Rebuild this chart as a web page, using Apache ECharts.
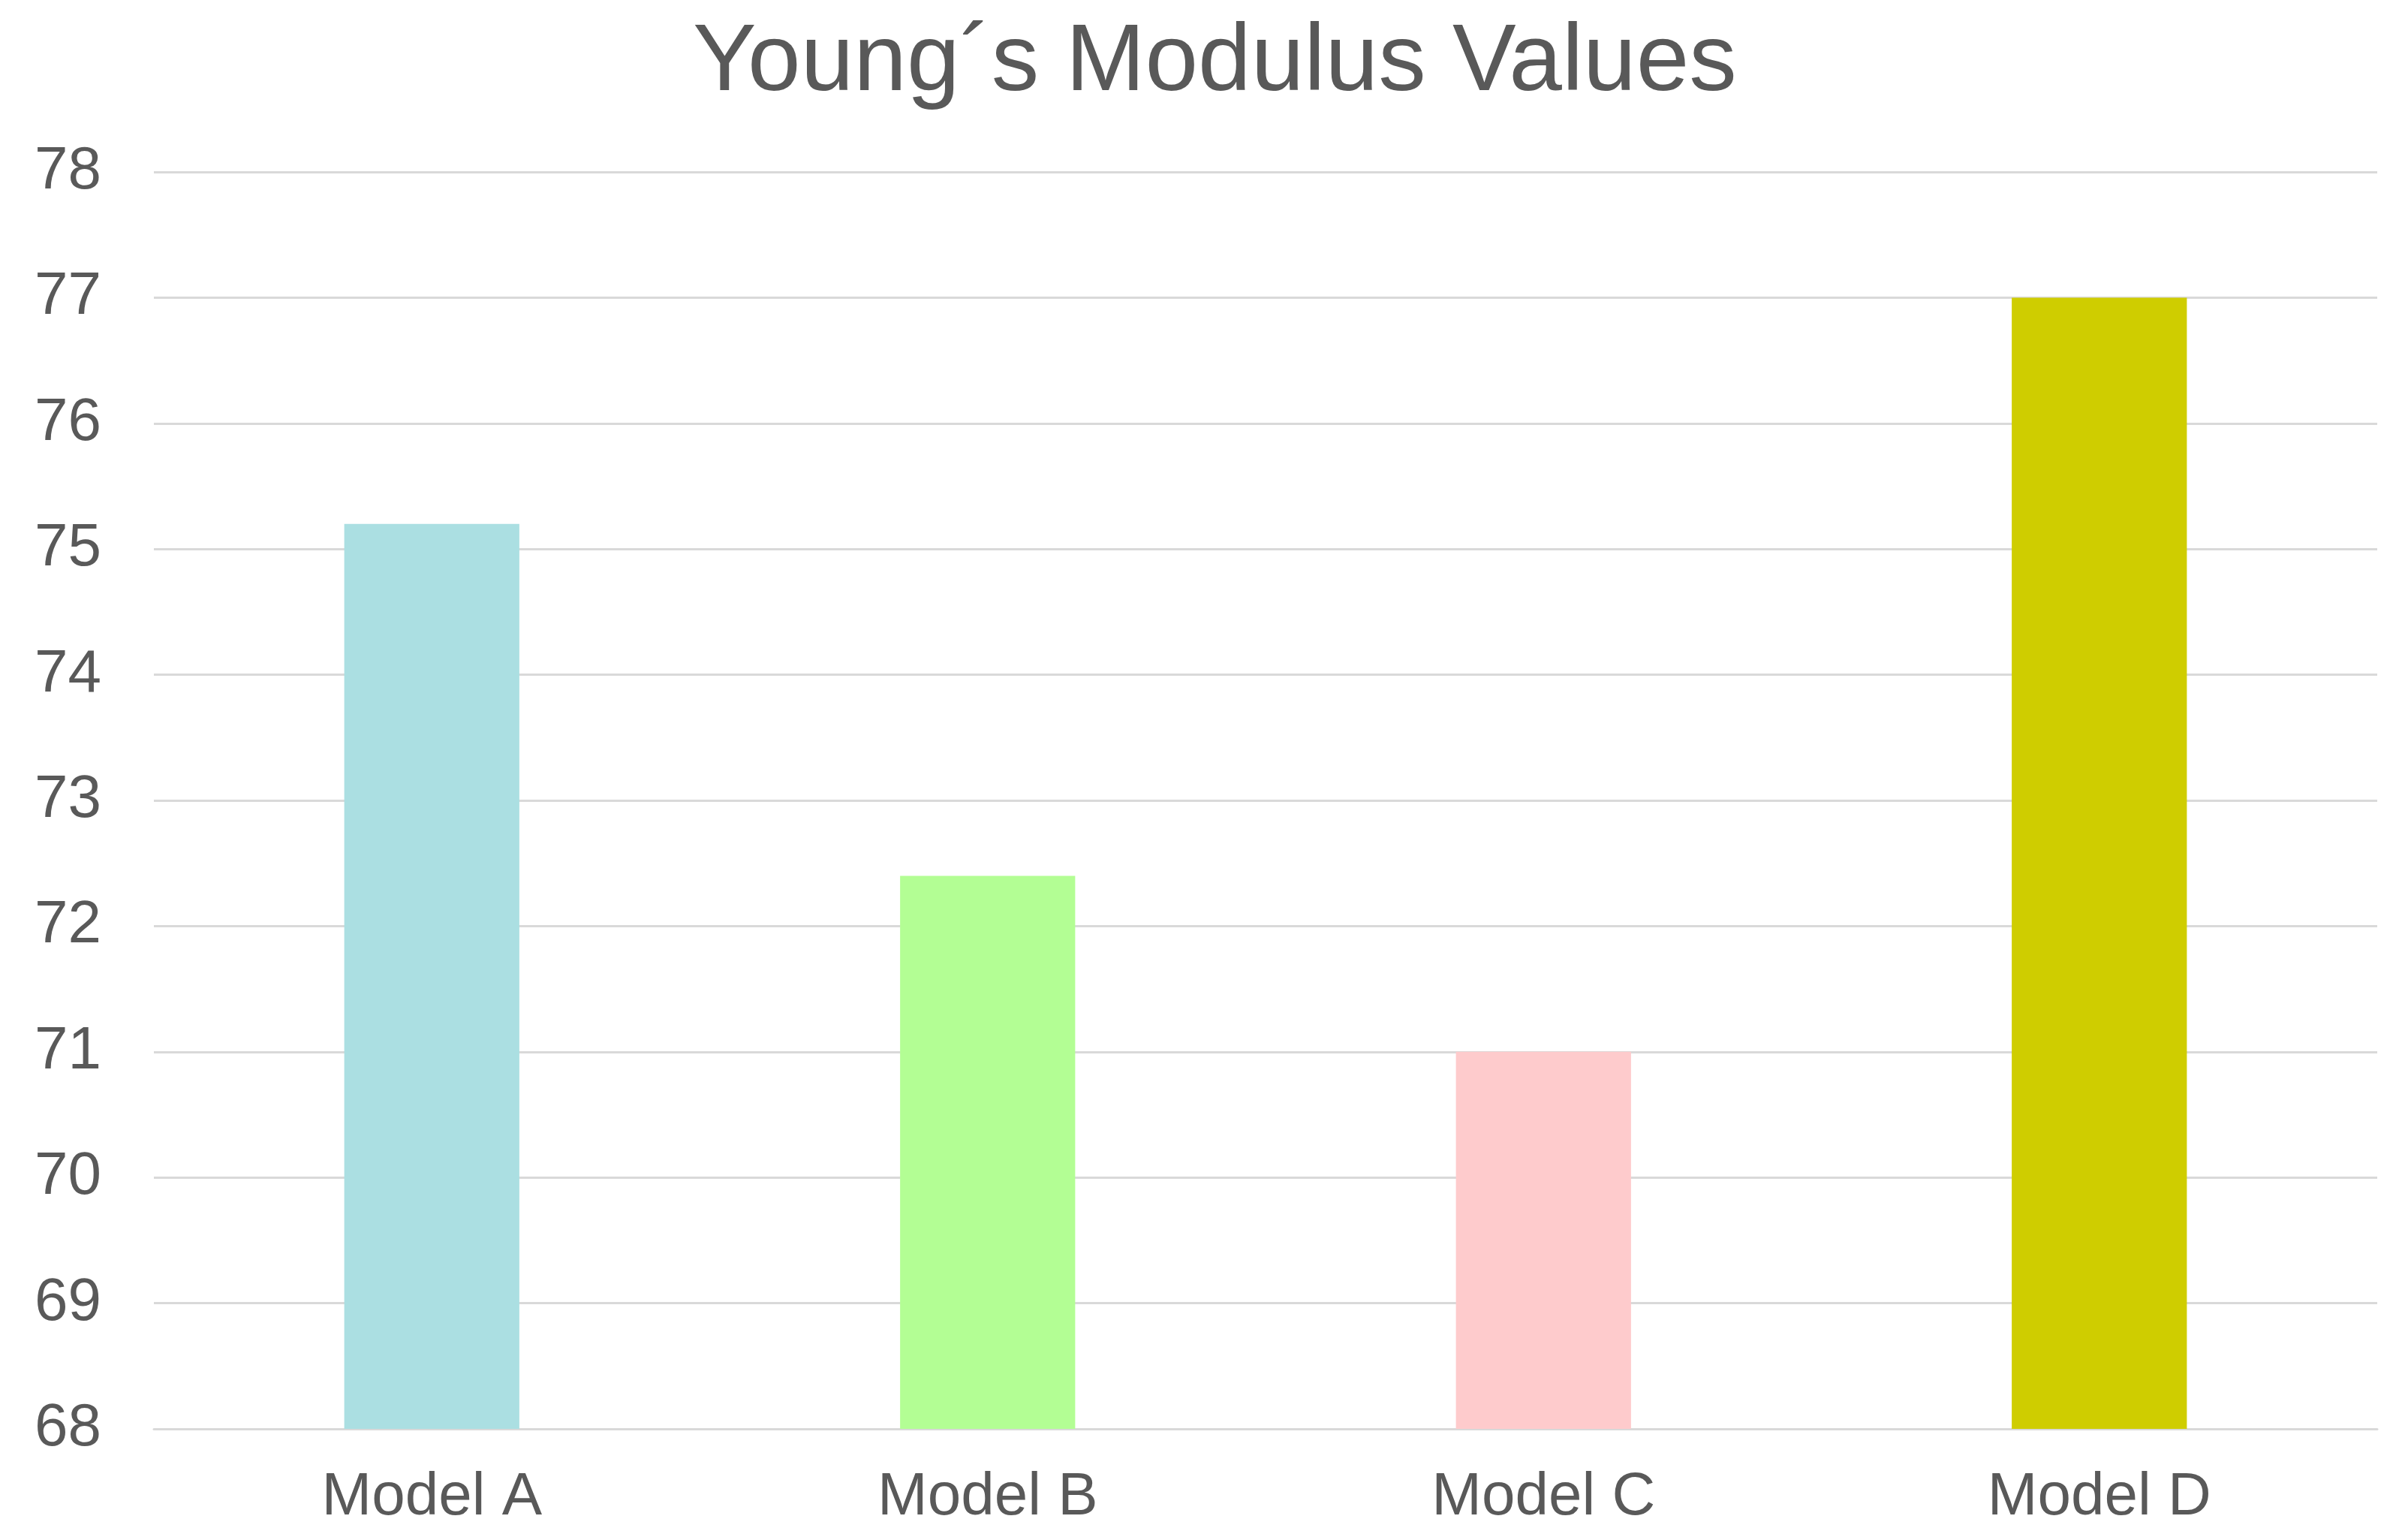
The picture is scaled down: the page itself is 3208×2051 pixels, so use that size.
<!DOCTYPE html>
<html>
<head>
<meta charset="utf-8">
<script src="https://cdn.jsdelivr.net/npm/echarts@6/dist/echarts.min.js"></script>
<style>
  html, body { margin: 0; padding: 0; background: #ffffff; }
  #chart { width: 3208px; height: 2051px; }
</style>
</head>
<body>
<div id="chart"></div>
<script>
const titleText = 'Young\u00B4s Modulus Values';
const categories = ['Model A', 'Model B', 'Model C', 'Model D'];
const values = [75.2, 72.4, 71.0, 77.0];
const barColors = ['#ABDFE2', '#B3FE94', '#FECBCC', '#CFCD00'];
const yMin = 68, yMax = 78, yStep = 1;

const chart = echarts.init(document.getElementById('chart'));
chart.setOption({
  backgroundColor: '#ffffff',
  animation: false,
  title: {
    text: titleText,
    left: 923,
    top: 21,
    padding: 0,
    textStyle: {
      fontFamily: 'Liberation Sans, Arial, sans-serif',
      fontSize: 127,
      fontWeight: 'normal',
      color: '#595959'
    }
  },
  grid: { left: 205, right: 41, top: 229, bottom: 148, containLabel: false },
  xAxis: {
    type: 'category',
    data: categories,
    axisTick: { show: false },
    axisLine: { show: true, lineStyle: { color: '#D9D9D9', width: 3 } },
    axisLabel: {
      margin: 52,
      fontFamily: 'Liberation Sans, Arial, sans-serif',
      fontSize: 80,
      color: '#595959'
    }
  },
  yAxis: {
    type: 'value',
    min: yMin,
    max: yMax,
    interval: yStep,
    axisLine: { show: false },
    axisTick: { show: false },
    splitLine: { show: true, lineStyle: { color: '#D9D9D9', width: 3 } },
    axisLabel: {
      margin: 70,
      fontFamily: 'Liberation Sans, Arial, sans-serif',
      fontSize: 80,
      color: '#595959'
    }
  },
  series: [{
    type: 'bar',
    barWidth: '31.5%',
    data: values.map((v, i) => ({ value: v, itemStyle: { color: barColors[i] } }))
  }]
});
</script>
</body>
</html>
